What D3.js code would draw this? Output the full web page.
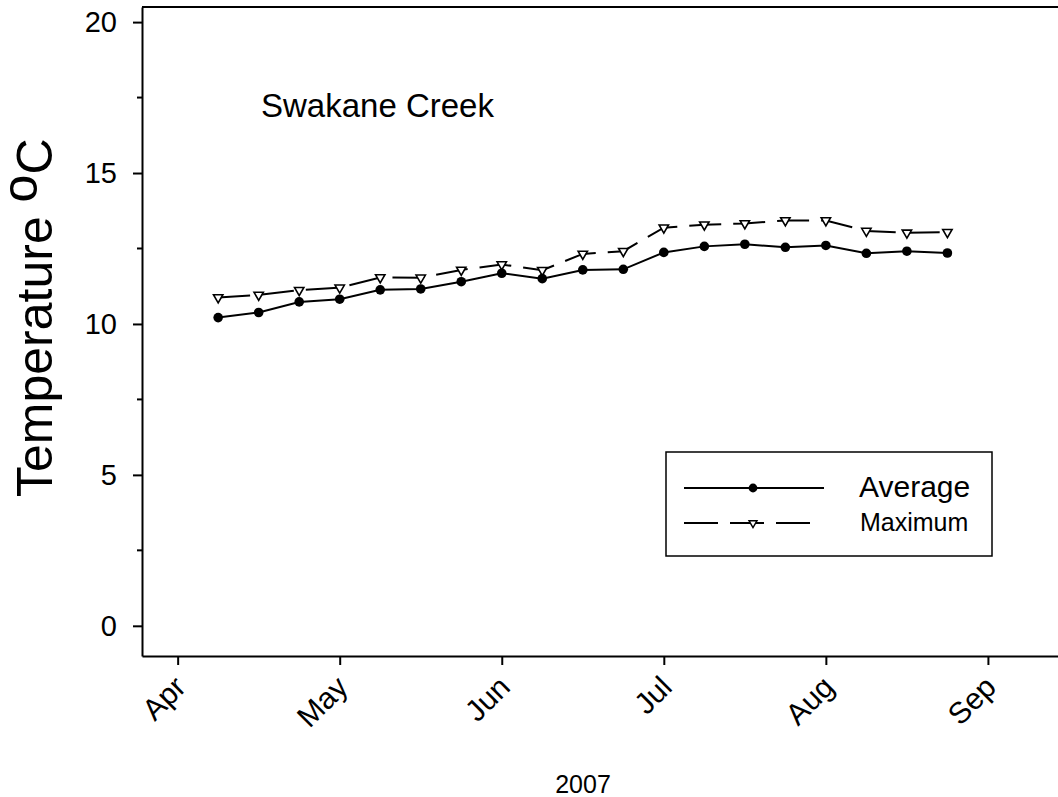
<!DOCTYPE html>
<html lang="en">
<head>
    <meta charset="UTF-8">
    <title>Swakane Creek</title>
    <script src="https://cdn.jsdelivr.net/npm/d3@7"></script>
    <style>
        body { margin: 0; background: #fff; }
        text { font-family: Arial, "Liberation Sans", sans-serif; fill: #000; }
    </style>
</head>
<body>
<script>

    // weeks since 1 Apr (axis shows 4 weeks per month)
    var weeks = [1, 2, 3, 4, 5, 6, 7, 8, 9, 10, 11, 12, 13, 14, 15, 16, 17, 18, 19];
    var average = [10.21, 10.38, 10.73, 10.82, 11.13, 11.16, 11.40, 11.68, 11.50, 11.79,
                   11.81, 12.37, 12.57, 12.64, 12.54, 12.60, 12.34, 12.41, 12.35];
    var maximum = [10.88, 10.96, 11.12, 11.20, 11.54, 11.53, 11.79, 11.97, 11.78, 12.32,
                   12.41, 13.19, 13.29, 13.33, 13.43, 13.43, 13.08, 13.02, 13.04];
    var months = ["Apr", "May", "Jun", "Jul", "Aug", "Sep"];
    var monthWeeks = [0, 4, 8, 12, 16, 20];
    var yTicks = [0, 5, 10, 15, 20];
    var yMinor = [2.5, 7.5, 12.5, 17.5];

    var W = 1058, H = 797;
    var pLeft = 142, pRight = 1058, pTop = 7, pBottom = 656;

    var svg = d3.select("body").append("svg")
            .attr("width", W)
            .attr("height", H);

    var x = d3.scaleLinear().domain([-0.88, 21.73]).range([pLeft, pRight]);
    var y = d3.scaleLinear().domain([-1, 20.5]).range([pBottom, pTop]);

    // frame top line
    svg.append("line")
            .attr("x1", pLeft).attr("x2", pRight + 2)
            .attr("y1", pTop).attr("y2", pTop)
            .attr("stroke", "#000").attr("stroke-width", 2);

    // y axis
    var yAxis = svg.append("g")
            .attr("transform", "translate(" + pLeft + ",0)")
            .call(d3.axisLeft(y).tickValues(yTicks).tickSize(9).tickSizeOuter(0).tickPadding(16));
    yAxis.select(".domain").attr("stroke-width", 2);
    yAxis.selectAll(".tick line").attr("stroke-width", 2);
    yAxis.selectAll(".tick text")
            .style("font-size", "29px")
            .style("font-family", "Arial, 'Liberation Sans', sans-serif");

    svg.append("g")
            .selectAll("line")
            .data(yMinor)
            .enter().append("line")
            .attr("x1", pLeft - 5).attr("x2", pLeft)
            .attr("y1", function(d) { return y(d); })
            .attr("y2", function(d) { return y(d); })
            .attr("stroke", "#000").attr("stroke-width", 2);

    // x axis
    var xAxis = svg.append("g")
            .attr("transform", "translate(0," + pBottom + ")")
            .call(d3.axisBottom(x).tickValues(monthWeeks).tickSize(9).tickSizeOuter(0).tickFormat(""));
    xAxis.select(".domain").attr("stroke-width", 2);
    xAxis.selectAll(".tick line").attr("stroke-width", 2);

    svg.append("g")
            .selectAll("text")
            .data(monthWeeks)
            .enter().append("text")
            .attr("text-anchor", "end")
            .attr("transform", function(d) {
                return "translate(" + (x(d) + 10) + "," + (pBottom + 33) + ") rotate(-45)";
            })
            .style("font-size", "30px")
            .text(function(d, i) { return months[i]; });

    svg.append("text")
            .attr("x", 583).attr("y", 793)
            .attr("text-anchor", "middle")
            .style("font-size", "25px")
            .text("2007");

    // y title
    var yt = svg.append("text")
            .attr("transform", "translate(52,497) rotate(-90)")
            .style("font-size", "50px");
    yt.append("tspan").text("Temperature ");
    yt.append("tspan").attr("dy", -15).text("o");
    yt.append("tspan").attr("dy", 15).text("C");

    svg.append("text")
            .attr("x", 261).attr("y", 117)
            .style("font-size", "33px")
            .text("Swakane Creek");

    // series
    var seriesLine = d3.line()
            .x(function(d, i) { return x(weeks[i]); })
            .y(function(d) { return y(d); });

    svg.append("path")
            .datum(maximum)
            .attr("d", seriesLine)
            .attr("fill", "none")
            .attr("stroke", "#000")
            .attr("stroke-width", 2)
            .attr("stroke-dasharray", "32,12");

    svg.append("path")
            .datum(average)
            .attr("d", seriesLine)
            .attr("fill", "none")
            .attr("stroke", "#000")
            .attr("stroke-width", 2);

    var tri = d3.symbol().type(d3.symbolTriangle).size(38);

    svg.append("g")
            .selectAll("path")
            .data(maximum)
            .enter().append("path")
            .attr("d", tri)
            .attr("transform", function(d, i) {
                return "translate(" + x(weeks[i]) + "," + y(d) + ") rotate(180)";
            })
            .attr("fill", "#fff")
            .attr("stroke", "#000")
            .attr("stroke-width", 1.6);

    svg.append("g")
            .selectAll("circle")
            .data(average)
            .enter().append("circle")
            .attr("cx", function(d, i) { return x(weeks[i]); })
            .attr("cy", function(d) { return y(d); })
            .attr("r", 4.8)
            .attr("fill", "#000");

    // legend
    var lg = svg.append("g");
    lg.append("rect")
            .attr("x", 666).attr("y", 452)
            .attr("width", 326).attr("height", 104)
            .attr("fill", "#fff")
            .attr("stroke", "#000").attr("stroke-width", 1.5);
    lg.append("line")
            .attr("x1", 684).attr("x2", 824)
            .attr("y1", 488).attr("y2", 488)
            .attr("stroke", "#000").attr("stroke-width", 2);
    lg.append("circle")
            .attr("cx", 753).attr("cy", 488).attr("r", 4.4)
            .attr("fill", "#000");
    lg.append("line")
            .attr("x1", 684).attr("x2", 811)
            .attr("y1", 523).attr("y2", 523)
            .attr("stroke", "#000").attr("stroke-width", 2)
            .attr("stroke-dasharray", "34,12");
    lg.append("path")
            .attr("d", d3.symbol().type(d3.symbolTriangle).size(28))
            .attr("transform", "translate(753,523) rotate(180)")
            .attr("fill", "#fff")
            .attr("stroke", "#000").attr("stroke-width", 1.4);
    lg.append("text")
            .attr("x", 859).attr("y", 497)
            .style("font-size", "30px")
            .text("Average");
    lg.append("text")
            .attr("x", 860).attr("y", 531)
            .style("font-size", "25px")
            .text("Maximum");

</script>
</body>
</html>
